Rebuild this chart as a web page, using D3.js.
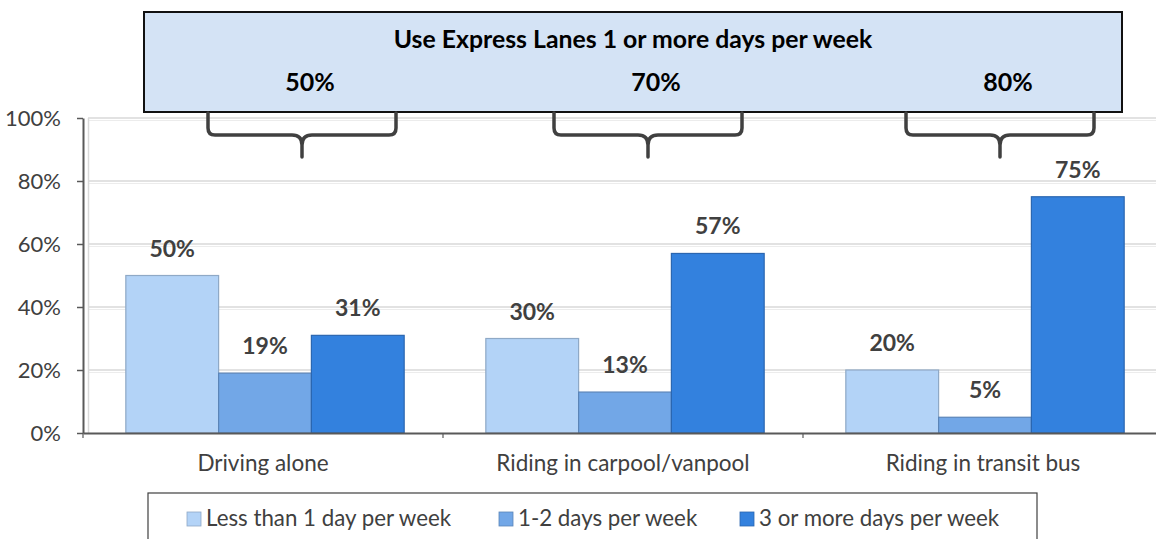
<!DOCTYPE html>
<html><head><meta charset="utf-8">
<script src="https://cdn.jsdelivr.net/npm/d3@7"></script>
<style>body{margin:0;background:#fff;} svg{display:block;font-family:Lato, "Open Sans", sans-serif;}</style>
</head><body><svg id="chart" width="1156" height="539"></svg>
<script>
const categories = ["Driving alone", "Riding in carpool/vanpool", "Riding in transit bus"];
const seriesNames = ["Less than 1 day per week", "1-2 days per week", "3 or more days per week"];
const lessThan1 = [50, 30, 20];
const oneToTwo = [19, 13, 5];
const threeOrMore = [31, 57, 75];
const yTicks = [0, 20, 40, 60, 80, 100];
const summaryTitle = "Use Express Lanes 1 or more days per week";
const summaryValues = [50, 70, 80];
const colors = ["#b3d3f7", "#72a7e7", "#3381de"];
const strokes = ["#8fa9c6", "#5b85b8", "#2b66b0"];

const series = [lessThan1, oneToTwo, threeOrMore];
const svg = d3.select("#chart");
const plot = {left: 83, right: 1163, top: 118, bottom: 433};

const x = d3.scaleBand().domain(categories).range([plot.left, plot.right]).paddingInner(0).paddingOuter(0);
const xs = d3.scaleBand().domain(d3.range(3)).range([0, x.bandwidth()]).paddingInner(0).paddingOuter(0.44);
const y = d3.scaleLinear().domain([0, 100]).range([plot.bottom, plot.top]);
const fmt = d => d + "%";

// gridlines (double line to mimic 3D wall)
const g = svg.append("g");
g.selectAll("line.g1").data(yTicks.slice(1)).join("line")
  .attr("x1", plot.left + 5).attr("x2", 1156).attr("y1", d => y(d)).attr("y2", d => y(d))
  .attr("stroke", "#d9d9d9").attr("stroke-width", 1.5);
g.selectAll("line.g2").data(yTicks.slice(1)).join("line")
  .attr("x1", plot.left + 5).attr("x2", 1156).attr("y1", d => y(d) + 2.5).attr("y2", d => y(d) + 2.5)
  .attr("stroke", "#ececec").attr("stroke-width", 1);
svg.append("line").attr("x1", plot.left + 5.5).attr("x2", plot.left + 5.5).attr("y1", plot.top).attr("y2", plot.bottom)
  .attr("stroke", "#d9d9d9").attr("stroke-width", 1.5);

// bars
categories.forEach((c, ci) => {
  series.forEach((s, si) => {
    svg.append("rect")
      .attr("x", x(c) + xs(si) + 2).attr("y", y(s[ci]))
      .attr("width", xs.bandwidth()).attr("height", y(0) - y(s[ci]))
      .attr("fill", colors[si]).attr("stroke", strokes[si]).attr("stroke-width", 1.2);
    svg.append("text")
      .attr("x", x(c) + xs(si) + 2 + xs.bandwidth() / 2).attr("y", y(s[ci]) - 19)
      .attr("text-anchor", "middle").attr("font-weight", "bold").attr("font-size", 23)
      .attr("fill", "#404040").text(fmt(s[ci]));
  });
});

// y axis
const yAxis = d3.axisLeft(y).tickValues(yTicks).tickFormat(fmt).tickSize(6).tickSizeOuter(0);
const ya = svg.append("g").attr("transform", `translate(${plot.left},0)`).call(yAxis);
ya.select(".domain").attr("stroke", "#595959").attr("stroke-width", 2);
ya.selectAll(".tick line").attr("stroke", "#595959").attr("stroke-width", 1.5);
ya.selectAll(".tick text").attr("font-size", 22).attr("fill", "#404040").attr("font-family", "Lato, sans-serif").attr("x", -22);

// x axis
const xa = svg.append("g").attr("transform", `translate(0,${plot.bottom})`)
  .call(d3.axisBottom(x).tickSize(0).tickSizeOuter(0));
xa.select(".domain").attr("stroke", "#595959").attr("stroke-width", 2);
xa.selectAll(".tick text").attr("font-size", 22.5).attr("fill", "#404040").attr("font-family", "Lato, sans-serif").attr("y", 38).attr("dy", 0);
svg.selectAll("line.sep").data(categories).join("line")
  .attr("x1", d => x(d)).attr("x2", d => x(d)).attr("y1", plot.bottom).attr("y2", plot.bottom + 5)
  .attr("stroke", "#595959").attr("stroke-width", 1.2);

// summary box
svg.append("rect").attr("x", 144).attr("y", 12).attr("width", 978).attr("height", 100)
  .attr("fill", "#d4e3f5").attr("stroke", "#111").attr("stroke-width", 2);
svg.append("text").attr("x", 633).attr("y", 48).attr("text-anchor", "middle")
  .attr("font-weight", "bold").attr("font-size", 24.8).attr("fill", "#000").text(summaryTitle);
const braceOffset = [39, 25, 17];
summaryValues.forEach((v, i) => {
  const cx = x(categories[i]) + x.bandwidth() / 2 + braceOffset[i];
  svg.append("text").attr("x", cx + 8).attr("y", 91).attr("text-anchor", "middle")
    .attr("font-weight", "bold").attr("font-size", 25).attr("fill", "#000").text(fmt(v));
  const hw = 94, top = 113, mid = 135, tip = 157, r = 7;
  const p = `M${cx - hw},${top} L${cx - hw},${mid - r} Q${cx - hw},${mid} ${cx - hw + r},${mid} L${cx - 10},${mid} Q${cx},${mid} ${cx},${mid + 10} L${cx},${tip}`
    + ` M${cx + hw},${top} L${cx + hw},${mid - r} Q${cx + hw},${mid} ${cx + hw - r},${mid} L${cx + 10},${mid} Q${cx},${mid} ${cx},${mid + 10}`;
  svg.append("path").attr("d", p).attr("fill", "none").attr("stroke", "#404040").attr("stroke-width", 3.5).attr("stroke-linecap", "round");
});

// legend
svg.append("rect").attr("x", 148).attr("y", 493).attr("width", 889).attr("height", 60)
  .attr("fill", "#fff").attr("stroke", "#404040").attr("stroke-width", 1.2);
const legX = [187, 499, 740];
seriesNames.forEach((n, i) => {
  svg.append("rect").attr("x", legX[i]).attr("y", 512).attr("width", 14).attr("height", 14)
    .attr("fill", colors[i]).attr("stroke", strokes[i]).attr("stroke-width", 0.8);
  svg.append("text").attr("x", legX[i] + 19).attr("y", 526).attr("font-size", 22.3).attr("fill", "#404040").text(n);
});
</script></body></html>
